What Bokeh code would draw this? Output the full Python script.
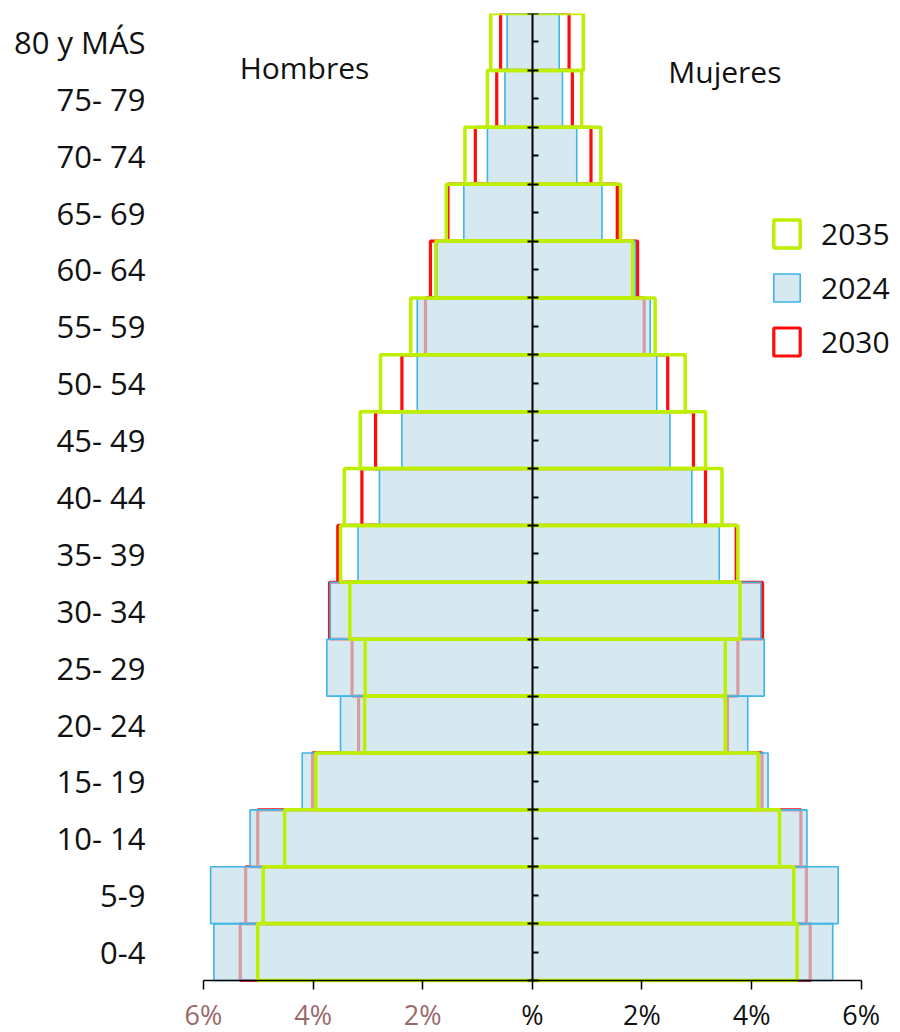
from bokeh.plotting import figure
from bokeh.models import (ColumnDataSource, Range1d, LinearAxis, FixedTicker,
                          Legend, LegendItem, Label, CustomLabelingPolicy)
from bokeh.embed import file_html
from bokeh.resources import INLINE

# ---- data (bottom to top) ----
ages = ["0-4", "5-9", "10- 14", "15- 19", "20- 24", "25- 29", "30- 34", "35- 39", "40- 44",
        "45- 49", "50- 54", "55- 59", "60- 64", "65- 69", "70- 74", "75- 79", "80 y MÁS"]

men_2024 = [5.81, 5.87, 5.15, 4.20, 3.50, 3.75, 3.69, 3.18, 2.79, 2.38, 2.10, 2.10, 1.74, 1.25, 0.82, 0.50, 0.46]
men_2030 = [5.33, 5.23, 5.01, 4.01, 3.17, 3.29, 3.70, 3.55, 3.11, 2.86, 2.38, 1.95, 1.86, 1.54, 1.04, 0.65, 0.58]
men_2035 = [5.01, 4.91, 4.52, 3.95, 3.06, 3.05, 3.33, 3.50, 3.43, 3.14, 2.77, 2.22, 1.76, 1.57, 1.23, 0.82, 0.76]

women_2024 = [5.48, 5.58, 5.01, 4.30, 3.93, 4.23, 4.17, 3.41, 2.91, 2.51, 2.27, 2.15, 1.88, 1.27, 0.81, 0.55, 0.49]
women_2030 = [5.07, 5.00, 4.90, 4.19, 3.56, 3.75, 4.20, 3.72, 3.16, 2.94, 2.47, 2.04, 1.92, 1.55, 1.07, 0.73, 0.67]
women_2035 = [4.83, 4.77, 4.51, 4.12, 3.52, 3.52, 3.79, 3.75, 3.46, 3.16, 2.79, 2.24, 1.83, 1.61, 1.25, 0.90, 0.93]

neg_ticks = [-6, -4, -2]
pos_ticks = [0, 2, 4, 6]
tick_text = {-6: "6%", -4: "4%", -2: "2%", 0: "%", 2: "2%", 4: "4%", 6: "6%"}
series_names = ["2035", "2024", "2030"]
side_titles = ["Hombres", "Mujeres"]

FONT = "Open Sans"
n = len(ages)
pos = list(range(n))

# ---- layout geometry (pixels) ----
W, H = 900, 1032
FRAME_L, XM6_PX, X6_PX, FRAME_T, BARS_BOTTOM = 160, 203, 860.7, 13, 980
px_per_x = (X6_PX - XM6_PX) / 12.0
px_per_y = (BARS_BOTTOM - FRAME_T) / n
x_lo = -6 - (XM6_PX - FRAME_L) / px_per_x
x_hi = 6 + (W - X6_PX) / px_per_x
y_lo = -0.5 - (H - BARS_BOTTOM) / px_per_y

src = ColumnDataSource(dict(
    y=pos,
    m24=[-v for v in men_2024], w24=women_2024,
    m30=[-v for v in men_2030], w30=women_2030,
    m35=[-v for v in men_2035], w35=women_2035,
))

p = figure(width=W, height=H, output_backend="svg", toolbar_location=None,
           y_range=Range1d(y_lo, n - 0.5), x_range=Range1d(x_lo, x_hi),
           x_axis_location=None, y_axis_location=None,
           min_border_left=FRAME_L, min_border_right=0, min_border_top=FRAME_T,
           min_border_bottom=0)
p.outline_line_color = None
p.xgrid.visible = False
p.ygrid.visible = False
p.background_fill_color = "white"
p.border_fill_color = "white"

r30 = p.hbar(y="y", left="m30", right="w30", height=1.0, source=src,
             fill_color=None, line_color="#ff0d0d", line_width=3.2)
r24 = p.hbar(y="y", left="m24", right="w24", height=1.0, source=src,
             fill_color="#c3dfeb", fill_alpha=0.68, line_color="#3db5e6", line_width=1.6)
r35 = p.hbar(y="y", left="m35", right="w35", height=1.0, source=src,
             fill_color=None, line_color="#bdf000", line_width=3.5)

# category axis (left), labels only
ya = LinearAxis(ticker=FixedTicker(ticks=pos),
                major_label_overrides={i: a for i, a in zip(pos, ages)},
                axis_line_color=None, major_tick_line_color=None, minor_tick_line_color=None,
                major_tick_out=0, major_tick_in=0,
                major_label_standoff=XM6_PX - FRAME_L - 58 + 15,
                major_label_text_font=FONT, major_label_text_font_size="31px",
                major_label_text_color="#111111")
ya.major_label_standoff = 15
p.add_layout(ya, "left")

no_labels = CustomLabelingPolicy(code="for (const i of indices) indices.unset(i); return indices")

# central axis with ticks at band edges and centers
cax = LinearAxis(fixed_location=0, bounds=(-0.5, n - 0.5),
                 ticker=FixedTicker(ticks=[i - 0.5 for i in range(n + 1)], minor_ticks=pos),
                 major_label_policy=no_labels,
                 axis_line_color="black", axis_line_width=2,
                 major_tick_line_color="black", major_tick_line_width=2,
                 major_tick_in=6, major_tick_out=5,
                 minor_tick_line_color="black", minor_tick_line_width=2,
                 minor_tick_in=6, minor_tick_out=0)
p.add_layout(cax, "left")

# bottom axis at the foot of the bars: line + positive ticks, black labels
xa = LinearAxis(fixed_location=-0.5, bounds=(-6, 6), ticker=FixedTicker(ticks=pos_ticks),
                major_label_overrides={t: tick_text[t] for t in pos_ticks},
                axis_line_color="black", axis_line_width=1.5,
                major_tick_line_color="black", major_tick_line_width=1.5,
                major_tick_out=9, major_tick_in=0, minor_tick_line_color=None,
                major_label_standoff=6, major_label_text_font=FONT,
                major_label_text_font_size="27px", major_label_text_color="#111111")
p.add_layout(xa, "below")

# negative ticks with mauve labels
nax = LinearAxis(fixed_location=-0.5, ticker=FixedTicker(ticks=neg_ticks),
                 major_label_overrides={t: tick_text[t] for t in neg_ticks},
                 axis_line_color=None, major_tick_line_color="black", major_tick_line_width=1.5,
                 minor_tick_line_color=None, major_tick_out=9, major_tick_in=0,
                 major_label_standoff=6, major_label_text_font=FONT,
                 major_label_text_font_size="27px", major_label_text_color="#9a6a6a")
p.add_layout(nax, "below")

legend = Legend(items=[LegendItem(label=series_names[0], renderers=[r35]),
                       LegendItem(label=series_names[1], renderers=[r24]),
                       LegendItem(label=series_names[2], renderers=[r30])],
                location=(610, 670), orientation="vertical",
                glyph_width=33, glyph_height=35, spacing=13, padding=0, margin=0,
                label_standoff=18, label_text_font=FONT, label_text_font_size="30px",
                label_text_color="#111111", label_height=35,
                border_line_color=None, background_fill_alpha=0)
p.add_layout(legend, "center")

p.add_layout(Label(x=-5.34, y=n - 1, y_offset=-26,
                   text=side_titles[0], text_font=FONT, text_font_size="30px",
                   text_color="#111111", text_baseline="alphabetic"))
p.add_layout(Label(x=2.48, y=n - 1, y_offset=-30,
                   text=side_titles[1], text_font=FONT, text_font_size="30px",
                   text_color="#111111", text_baseline="alphabetic"))

open("out.html", "w").write(file_html(p, INLINE))
